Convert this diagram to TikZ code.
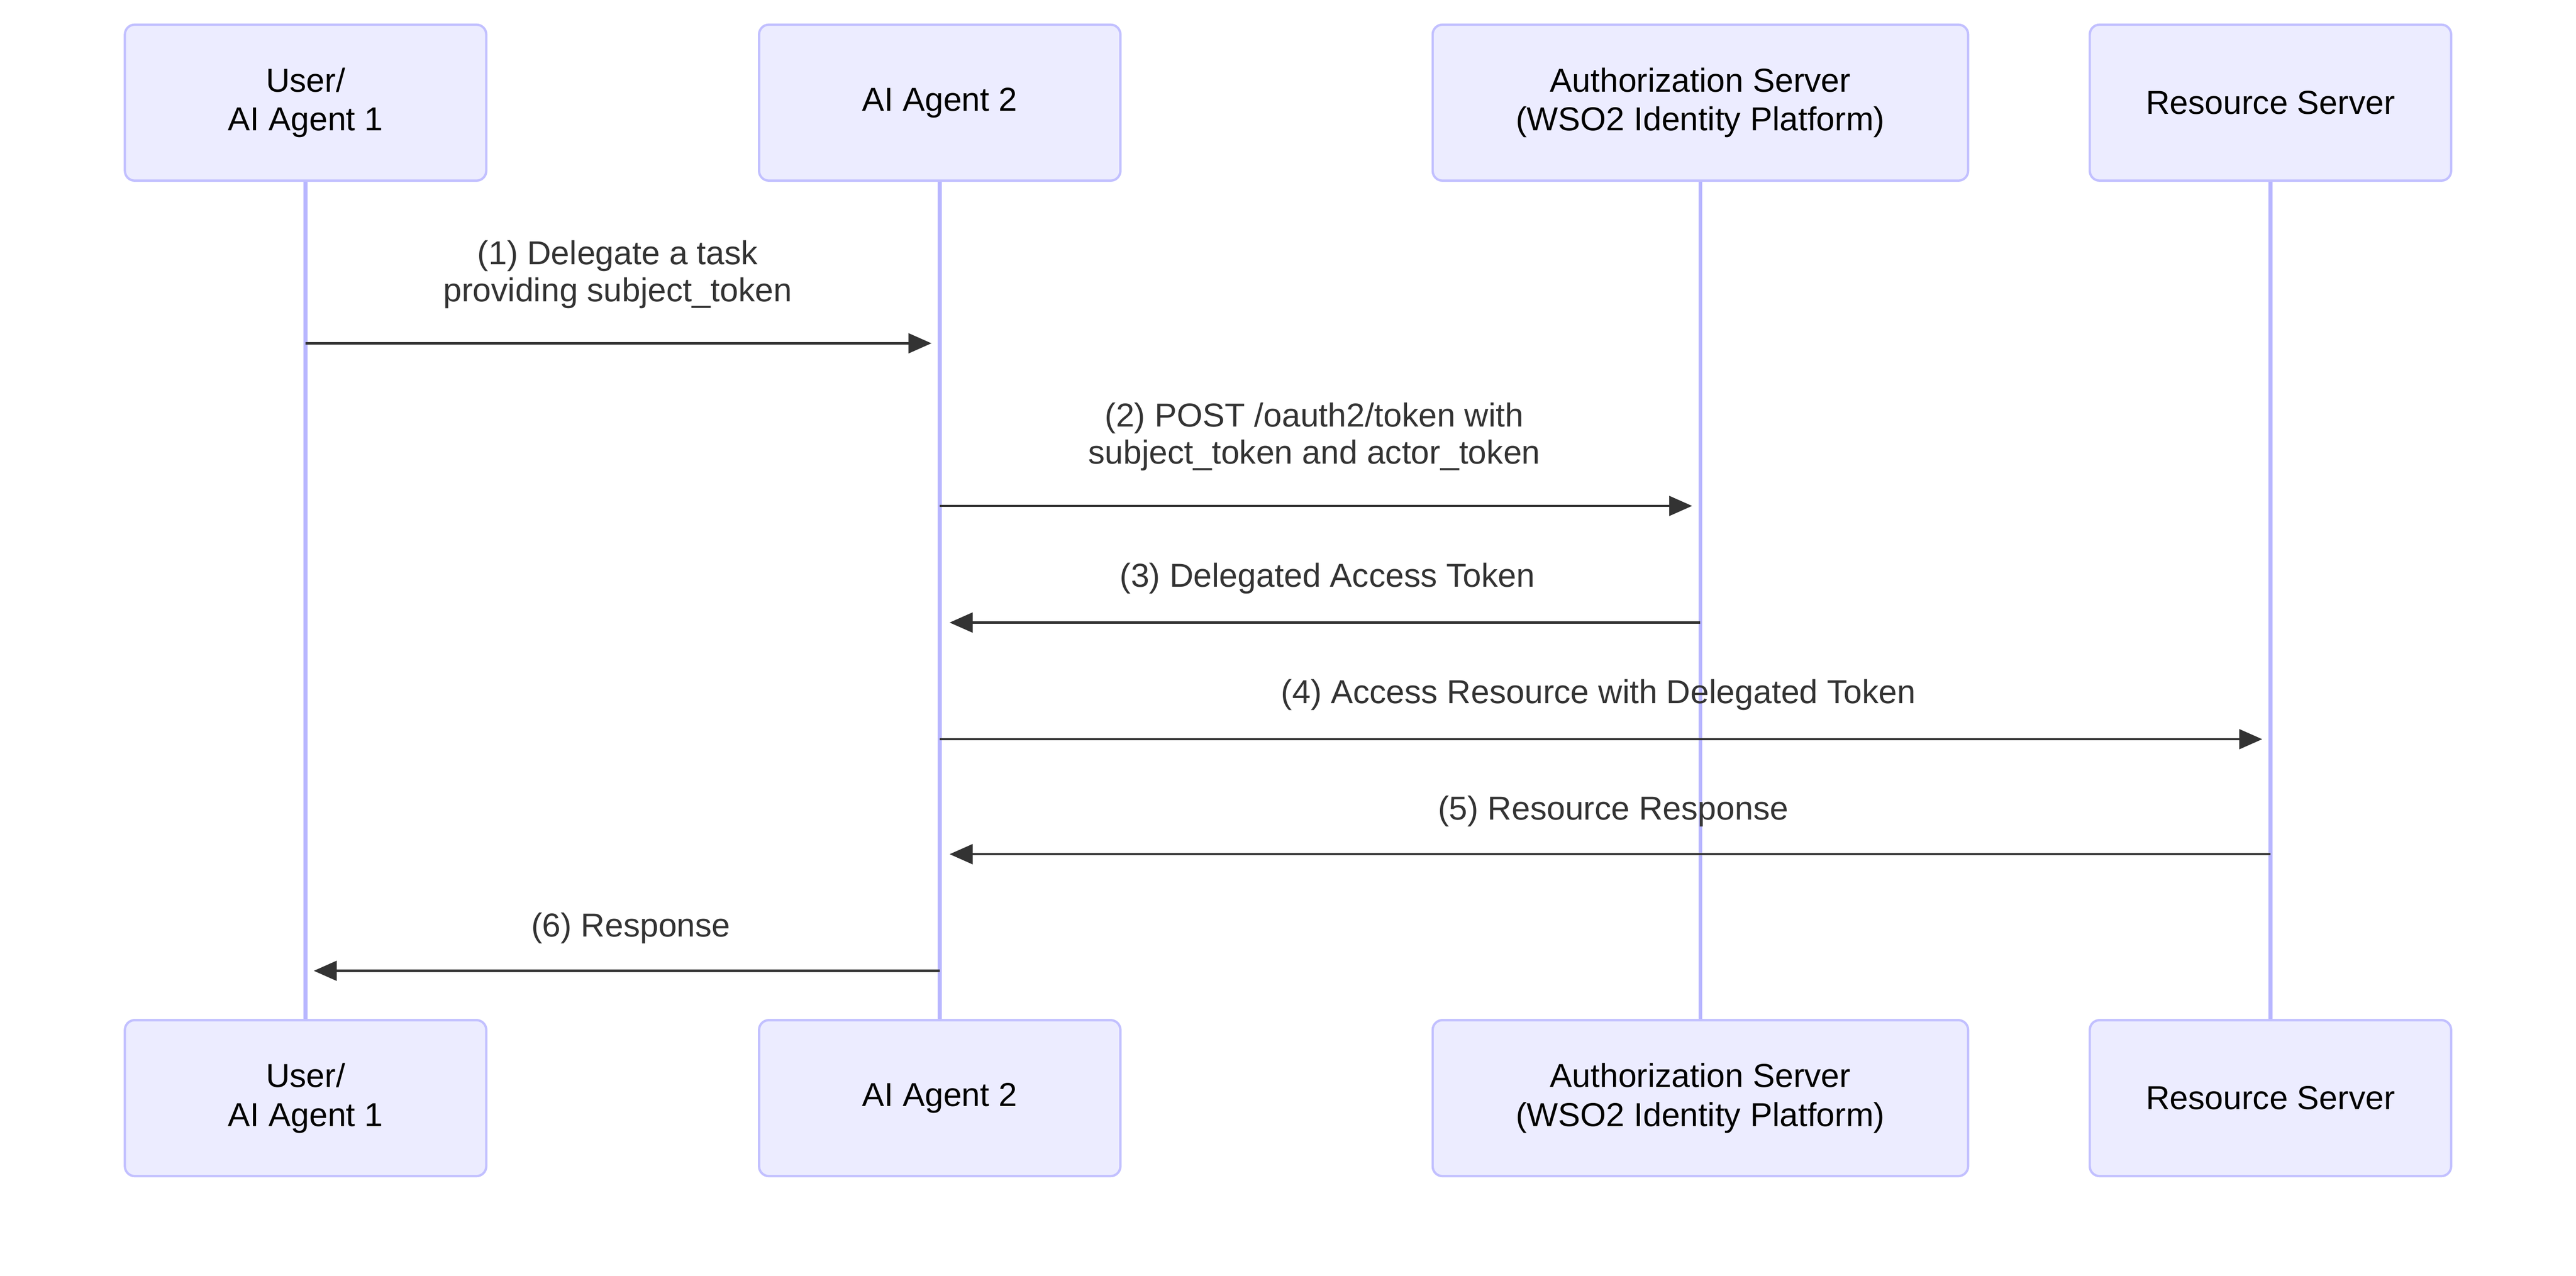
\documentclass[tikz,border=0pt]{standalone}
\usepackage{fontspec}
\setmainfont{Liberation Sans}
\usetikzlibrary{arrows.meta,positioning}
\definecolor{actorfill}{HTML}{ECECFF}
\definecolor{actorline}{HTML}{C2C0FF}
\definecolor{lifeline}{HTML}{B8B6FF}
\definecolor{msgline}{HTML}{333333}
\tikzset{
  actor/.style={draw=actorline,fill=actorfill,rounded corners=0.12cm,line width=0.8pt,
    minimum height=1.9cm,align=center,font=\fontsize{11.5}{13.5}\selectfont},
  life/.style={draw=lifeline,line width=1.4pt},
  msg/.style={draw=msgline,line width=0.8pt,-{Triangle[length=0.28cm,width=0.24cm]}},
  msglabel/.style={align=center,font=\fontsize{11.5}{12.8}\selectfont,text=msgline}
}
\begin{document}
\begin{tikzpicture}[x=0.02cm,y=-0.02cm]
  \useasboundingbox (0,0) rectangle (1568,776.6);
  % participants, top and bottom
  \foreach \nm/\cx/\bw/\txt in {usr/186/4.4/{User/\\AI Agent 1},agt/572/4.4/{AI Agent 2},
      aut/1035/6.52/{Authorization Server\\(WSO2 Identity Platform)},res/1382/4.4/{Resource Server}}{
    \draw[life] (\cx,110) -- (\cx,621);
    \node[actor,minimum width=\bw cm] (\nm top) at (\cx,62.5) {\txt};
    \node[actor,minimum width=\bw cm] (\nm bot) at (\cx,668.5) {\txt};
  }
  % messages
  \coordinate (m1s) at (186,209); \coordinate (m1e) at (567,209);
  \coordinate (m2s) at (572,308); \coordinate (m2e) at (1030,308);
  \coordinate (m3s) at (1035,379); \coordinate (m3e) at (578,379);
  \coordinate (m4s) at (572,450); \coordinate (m4e) at (1377,450);
  \coordinate (m5s) at (1382,520); \coordinate (m5e) at (578,520);
  \coordinate (m6s) at (572,591); \coordinate (m6e) at (191,591);
  \draw[msg] (m1s) -- (m1e);
  \draw[msg] (m2s) -- (m2e);
  \draw[msg] (m3s) -- (m3e);
  \draw[msg] (m4s) -- (m4e);
  \draw[msg] (m5s) -- (m5e);
  \draw[msg] (m6s) -- (m6e);
  \node[msglabel] (l1) at (376,167) {(1) Delegate a task\\providing subject\_token};
  \node[msglabel] (l2) at (800,266) {(2) POST /oauth2/token with\\subject\_token and actor\_token};
  \node[msglabel] (l3) at (808,352) {(3) Delegated Access Token};
  \node[msglabel] (l4) at (973,423) {(4) Access Resource with Delegated Token};
  \node[msglabel] (l5) at (982,494) {(5) Resource Response};
  \node[msglabel] (l6) at (384,565) {(6) Response};
\end{tikzpicture}
\end{document}
